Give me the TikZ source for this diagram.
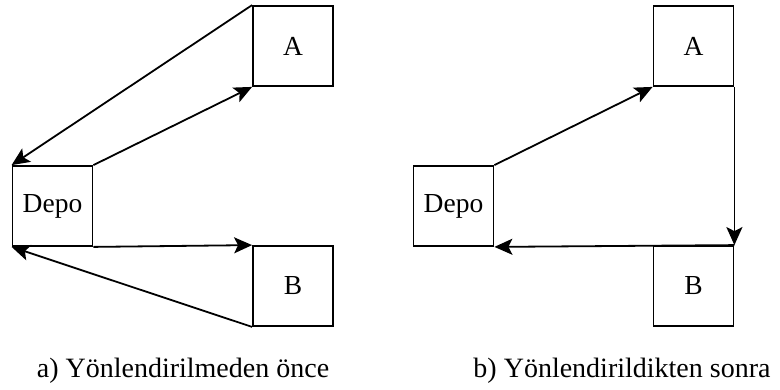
\documentclass[tikz,border=0pt]{standalone}
\usepackage{fontspec}
\setmainfont{Liberation Serif}
\usetikzlibrary{arrows.meta}
\begin{document}
\begin{tikzpicture}[x=1pt,y=-1pt,
  box/.style={draw, line width=1.8pt, minimum width=80pt, minimum height=80pt,
              inner sep=0pt, font=\fontsize{27.5}{32}\selectfont},
  flow/.style={line width=1.8pt, -{Stealth[length=18pt,width=16pt,inset=4pt]}},
  caption/.style={anchor=base, inner sep=0pt, font=\fontsize{28}{32}\selectfont}]
\useasboundingbox (0,0) rectangle (780,389);

% (a) routes before optimisation
\node[box] (d1) at (52.5,206) {Depo};
\node[box] (a1) at (293,46) {A};
\node[box] (b1) at (293,286) {B};
\draw[flow] (a1.north west) -- (d1.north west);
\draw[flow] (d1.north east) -- (a1.south west);
\draw[flow] (d1.south east) -- (b1.north west);
\draw[flow] (b1.south west) -- (d1.south west);
\node[caption] (ca) at (183,377) {a) Yönlendirilmeden önce};

% (b) routes after optimisation
\node[box] (d2) at (453.5,206) {Depo};
\node[box] (a2) at (693.5,46) {A};
\node[box] (b2) at (693.5,286) {B};
\draw[flow] (d2.north east) -- (a2.south west);
\draw[flow] (a2.south east) -- (b2.north east);
\draw[flow] (b2.north east) -- (d2.south east);
\node[caption] (cb) at (622,377) {b) Yönlendirildikten sonra};
\end{tikzpicture}
\end{document}
